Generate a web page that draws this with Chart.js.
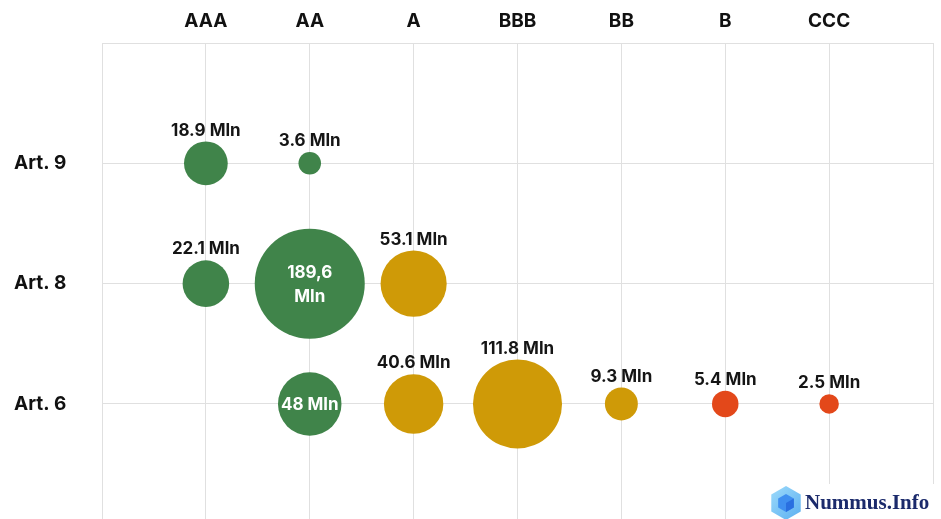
<!DOCTYPE html>
<html>
<head>
<meta charset="utf-8">
<script src="https://cdn.jsdelivr.net/npm/chart.js@4.4.1/dist/chart.umd.min.js"></script>
<style>
  html, body { margin: 0; padding: 0; background: #fff; }
  #wrap { width: 941px; height: 519px; }
</style>
</head>
<body>
<div id="wrap"><canvas id="chart_bubbles" width="941" height="519"></canvas></div>
<script>
// ratings along the top, SFDR articles down the side
const ratings = ['AAA', 'AA', 'A', 'BBB', 'BB', 'B', 'CCC']
const articles = ['Art. 6', 'Art. 8', 'Art. 9']   // y = 1, 2, 3

// values in Mln, one per rating (null = no bubble)
const art9 = [18.9, 3.6, null, null, null, null, null]
const art8 = [22.1, 189.6, 53.1, null, null, null, null]
const art6 = [null, 48, 40.6, 111.8, 9.3, 5.4, 2.5]

// label text as printed on the chart
const art9Labels = ['18.9 Mln', '3.6 Mln', '', '', '', '', '']
const art8Labels = ['22.1 Mln', '189,6 Mln', '53.1 Mln', '', '', '', '']
const art6Labels = ['', '48 Mln', '40.6 Mln', '111.8 Mln', '9.3 Mln', '5.4 Mln', '2.5 Mln']

// labels that sit inside their bubble, with their line breaks
const insideLabels = {
    '189,6 Mln': ['189,6', 'Mln'],
    '48 Mln': ['48 Mln']
}

const groupColor = ['#40844a', '#40844a', '#cf9a07', '#cf9a07', '#cf9a07', '#e3481a', '#e3481a']

function bubbleRadius(v) {
    return 6.75 * Math.pow(v, 0.4)
}

function toPoints(values, labels, row) {
    let pts = []
    values.forEach((v, i) => {
        if (v !== null) pts.push({ x: i, y: row, r: bubbleRadius(v), label: labels[i] })
    })
    return pts
}

const bubbleLabels = {
    id: 'bubbleLabels',
    afterDatasetsDraw(chart) {
        const ctx = chart.ctx
        ctx.save()
        ctx.textAlign = 'center'
        ctx.textBaseline = 'middle'
        ctx.font = '700 17px Inter'
        chart.data.datasets.forEach((ds, di) => {
            const meta = chart.getDatasetMeta(di)
            meta.data.forEach((el, i) => {
                const p = ds.data[i]
                if (!p.label) return
                const lines = insideLabels[p.label]
                if (lines) {
                    ctx.fillStyle = '#ffffff'
                    const lh = 24
                    const y0 = el.y - (lines.length - 1) * lh / 2 + 1
                    lines.forEach((t, k) => ctx.fillText(t, el.x, y0 + k * lh))
                } else {
                    ctx.fillStyle = '#151515'
                    ctx.fillText(p.label, el.x, el.y - p.r - 11)
                }
            })
        })
        ctx.restore()
    }
}

const logo = {
    id: 'logo',
    afterDraw(chart) {
        const ctx = chart.ctx
        ctx.save()
        ctx.fillStyle = '#ffffff'
        ctx.fillRect(756, 484, 185, 35)
        // hexagon cube icon
        const cx = 786, cy = 503, s = 17
        ctx.beginPath()
        for (let k = 0; k < 6; k++) {
            const a = Math.PI / 6 + k * Math.PI / 3
            ctx.lineTo(cx + s * Math.cos(a), cy + s * Math.sin(a))
        }
        ctx.closePath()
        const g = ctx.createLinearGradient(cx - s, cy - s, cx + s, cy + s)
        g.addColorStop(0, '#9fdcfb')
        g.addColorStop(1, '#5aaef0')
        ctx.fillStyle = g
        ctx.fill()
        const c = 9
        ctx.fillStyle = '#3f8ff0'
        ctx.beginPath()
        ctx.moveTo(cx, cy - c); ctx.lineTo(cx + c * 0.87, cy - c / 2); ctx.lineTo(cx + c * 0.87, cy + c / 2)
        ctx.lineTo(cx, cy + c); ctx.lineTo(cx - c * 0.87, cy + c / 2); ctx.lineTo(cx - c * 0.87, cy - c / 2)
        ctx.closePath(); ctx.fill()
        ctx.fillStyle = '#2a6fe0'
        ctx.beginPath()
        ctx.moveTo(cx, cy); ctx.lineTo(cx + c * 0.87, cy - c / 2); ctx.lineTo(cx + c * 0.87, cy + c / 2); ctx.lineTo(cx, cy + c)
        ctx.closePath(); ctx.fill()
        ctx.fillStyle = '#1b2a6b'
        ctx.font = '700 21px "Liberation Serif"'
        ctx.textAlign = 'left'
        ctx.textBaseline = 'middle'
        ctx.fillText('Nummus.Info', 805, 504)
        ctx.restore()
    }
}

const config = {
    type: 'bubble',
    data: {
        datasets: [
            { data: toPoints(art9, art9Labels, 3) },
            { data: toPoints(art8, art8Labels, 2) },
            { data: toPoints(art6, art6Labels, 1) }
        ].map(ds => Object.assign(ds, {
            backgroundColor: (c) => groupColor[c.raw.x],
            borderWidth: 0,
            clip: false
        }))
    },
    options: {
        responsive: false,
        animation: false,
        layout: { autoPadding: false, padding: { left: 14, right: 8, top: 0, bottom: 0 } },
        plugins: { legend: { display: false }, tooltip: { enabled: false } },
        scales: {
            x: {
                type: 'linear',
                position: 'top',
                min: -1,
                max: 7,
                afterBuildTicks: (axis) => { axis.ticks = [-1, 0, 1, 2, 3, 4, 5, 6, 7].map(v => ({ value: v })) },
                afterFit: (axis) => {
                    axis.height = 43
                    axis.paddingLeft = 0
                    axis.paddingRight = 0
                },
                ticks: {
                    padding: 10,
                    color: '#111',
                    font: { family: 'Inter', weight: '700', size: 19 },
                    callback: (v) => ratings[v] ?? ''
                },
                grid: { color: '#e0e0e0', drawTicks: false },
                border: { color: '#e0e0e0' }
            },
            y: {
                type: 'linear',
                min: 0.044,
                max: 4,
                afterBuildTicks: (axis) => { axis.ticks = [1, 2, 3, 4].map(v => ({ value: v })) },
                afterFit: (axis) => {
                    axis.width = 88
                    axis.paddingTop = 0
                    axis.paddingBottom = 0
                },
                ticks: {
                    crossAlign: 'far',
                    color: '#111',
                    font: { family: 'Inter', weight: '700', size: 19 },
                    callback: (v) => articles[v - 1] ?? ''
                },
                grid: { color: '#e0e0e0', drawTicks: false },
                border: { color: '#e0e0e0' }
            }
        }
    },
    plugins: [bubbleLabels, logo]
}

var ctx = document.getElementById('chart_bubbles').getContext('2d')
window.myBubbles = new Chart(ctx, config)
</script>
</body>
</html>
